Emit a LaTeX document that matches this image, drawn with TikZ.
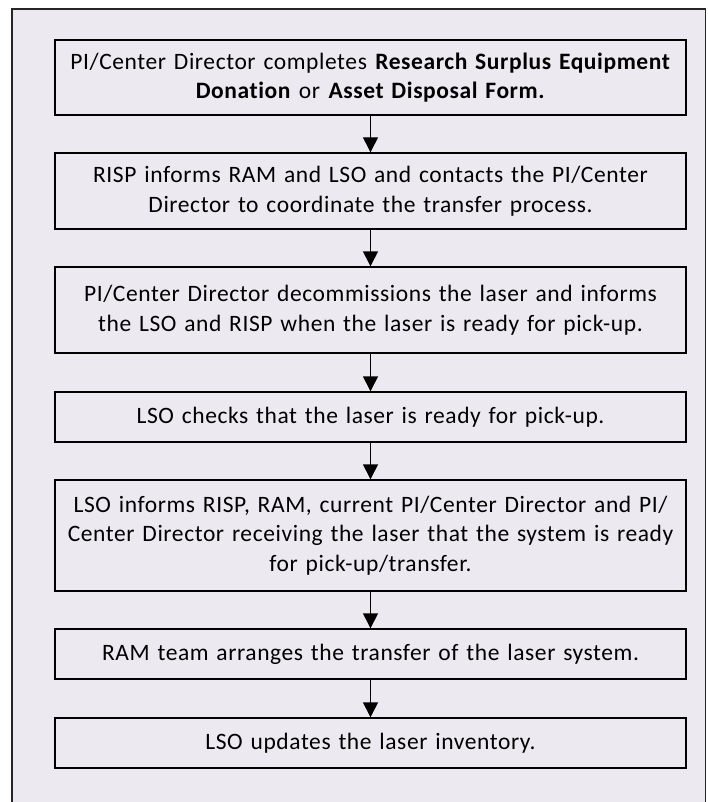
\documentclass[tikz,border=0pt]{standalone}
\usepackage{fontspec}
\setmainfont{Carlito}[LetterSpace=2.5, Ligatures=NoCommon]
\usetikzlibrary{arrows.meta}
\definecolor{panelfill}{RGB}{236,233,241}
\tikzset{
	stepbox/.style={draw=black, line width=1.4pt, fill=panelfill, text width=631pt, align=center,
		inner sep=0pt, minimum width=631pt, font=\fontsize{23.5}{29.5}\selectfont},
	flowarrow/.style={line width=1.4pt, -{Triangle[width=15pt,length=15pt]}}
}
\begin{document}
\begin{tikzpicture}[x=1pt, y=-1pt]
			\clip (0,0) rectangle (707,802);
			\filldraw[fill=panelfill, draw=black!85, line width=1.4pt] (12,9) rectangle (705.5,815);
			
			\node[stepbox, minimum height=75pt] (s1) at (370.5,77.5) {PI/Center Director completes \textbf{Research Surplus Equipment}\\ \textbf{Donation} or \textbf{Asset Disposal Form.}};
			\node[stepbox, minimum height=76pt] (s2) at (370.5,191) {RISP informs RAM and LSO and contacts the PI/Center\\ Director to coordinate the transfer process.};
			\node[stepbox, minimum height=86pt] (s3) at (370.5,310) {PI/Center Director decommissions the laser and informs\\ the LSO and RISP when the laser is ready for pick-up.};
			\node[stepbox, minimum height=50pt] (s4) at (370.5,417) {LSO checks that the laser is ready for pick-up.};
			\node[stepbox, minimum height=111pt] (s5) at (370.5,535.5) {LSO informs RISP, RAM, current PI/Center Director and PI/\\ Center Director receiving the laser that the system is ready\\ for pick-up/transfer.};
			\node[stepbox, minimum height=50pt] (s6) at (370.5,654) {RAM team arranges the transfer of the laser system.};
			\node[stepbox, minimum height=50pt] (s7) at (370.5,743) {LSO updates the laser inventory.};
			
			\foreach \a/\b in {s1/s2, s2/s3, s3/s4, s4/s5, s5/s6, s6/s7}
				\draw[flowarrow] (\a) -- (\b);
		\end{tikzpicture}
\end{document}
